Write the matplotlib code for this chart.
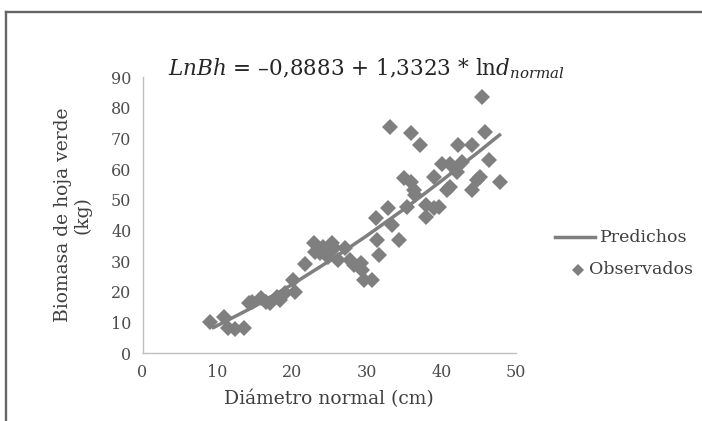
import matplotlib
matplotlib.use("Agg")
import matplotlib.pyplot as plt
from matplotlib.lines import Line2D

# Observed data (diameter cm, green-leaf biomass kg)
obs_x = [9.1, 10.9, 11.4, 12.4, 13.6, 14.2, 14.6, 15.8, 16.6, 17.1, 18.0, 18.4, 19.1,
         20.2, 20.4, 21.8, 22.9, 23.1, 23.8, 24.2, 24.9, 25.4, 25.6, 26.2, 27.1, 27.8,
         28.3, 29.2, 29.4, 29.6, 30.7, 31.2, 31.4, 31.6, 32.9, 33.2, 33.4, 34.3, 35.0,
         35.4, 35.9, 35.9, 36.3, 36.5, 37.2, 37.9, 37.9, 39.0, 39.0, 39.7, 40.1, 40.8,
         41.2, 41.2, 42.1, 42.3, 42.8, 44.1, 44.1, 44.8, 45.2, 45.5, 45.9, 46.4, 47.9]
obs_y = [10.2, 11.8, 8.0, 7.7, 8.0, 16.2, 16.7, 17.8, 16.7, 16.2, 18.4, 17.3, 19.5,
         23.8, 20.0, 28.9, 35.8, 33.0, 32.5, 34.7, 31.4, 35.8, 34.1, 30.3, 34.1, 30.3,
         28.7, 29.2, 27.0, 23.8, 23.8, 43.9, 36.8, 32.0, 47.2, 73.8, 41.7, 36.8, 57.0,
         47.7, 71.6, 55.9, 53.1, 51.5, 67.8, 44.4, 48.3, 57.5, 47.2, 47.7, 61.8, 53.1,
         54.2, 61.8, 59.1, 67.8, 62.4, 67.8, 53.1, 56.4, 57.5, 83.6, 72.2, 62.9, 55.9]

# Predicted curve
pred_x = [9.5, 15, 20, 25, 30, 35, 40, 45, 47.8]
pred_y = [8.3, 15.2, 22.3, 30.0, 38.2, 46.9, 56.1, 65.6, 71.1]

xticks = [0, 10, 20, 30, 40, 50]
yticks = [0, 10, 20, 30, 40, 50, 60, 70, 80, 90]
legend_labels = ['Predichos', 'Observados']

plt.rcParams['font.family'] = ['DejaVu Serif']
plt.rcParams['mathtext.fontset'] = 'dejavuserif'

W, H = 702, 421
fig = plt.figure(figsize=(W / 100, H / 100), dpi=100)
ax = fig.add_axes([0.203, 0.1615, 0.532, 0.6555])

gray = '#7f7f7f'
txt = '#404040'

ax.plot(pred_x, pred_y, color=gray, lw=2.5, zorder=2)
ax.plot(obs_x, obs_y, linestyle='none', marker='D', markersize=7.8, color=gray,
        markeredgewidth=0, zorder=3)

ax.set_xlim(0, 50)
ax.set_ylim(0, 90)
ax.set_xticks(xticks)
ax.set_yticks(yticks)
for s in ['top', 'right']:
    ax.spines[s].set_visible(False)
for s in ['left', 'bottom']:
    ax.spines[s].set_color('#bfbfbf')
    ax.spines[s].set_linewidth(1.0)
ax.tick_params(length=0, labelsize=11.5, labelcolor='#4d4d4d', pad=8)

ax.set_xlabel('Diámetro normal (cm)', fontsize=13.5, color=txt, labelpad=6)
ax.set_ylabel('Biomasa de hoja verde\n(kg)', fontsize=13.5, color=txt, labelpad=14,
              linespacing=1.1)

fig.text(0.522, 0.838,
         r'$\mathit{LnBh}$ = –0,8883 + 1,3323 * ln$\mathit{d}_{\mathit{normal}}$',
         ha='center', va='center', fontsize=15.5, color='#262626')

# legend (drawn manually to match the reference layout)
def fx(px):
    return px / W

def fy(py):
    return 1 - py / H

fig.add_artist(Line2D([fx(555), fx(595)], [fy(237), fy(237)], transform=fig.transFigure,
                      color=gray, lw=2.5))
fig.text(fx(600), fy(237), legend_labels[0], ha='left', va='center', fontsize=12.5,
         color=txt)
fig.add_artist(Line2D([fx(578)], [fy(270)], transform=fig.transFigure, linestyle='none',
                      marker='D', markersize=6.2, color=gray, markeredgewidth=0))
fig.text(fx(589), fy(270), legend_labels[1], ha='left', va='center', fontsize=12.5,
         color=txt)

# outer frame (partially visible)
fig.add_artist(Line2D([fx(6), 1.0], [fy(12), fy(12)],
                      transform=fig.transFigure, color='#666666', lw=1.7))
fig.add_artist(Line2D([fx(6), fx(6)], [0.0, fy(12)],
                      transform=fig.transFigure, color='#666666', lw=1.7))

fig.savefig('out.png', dpi=100)
